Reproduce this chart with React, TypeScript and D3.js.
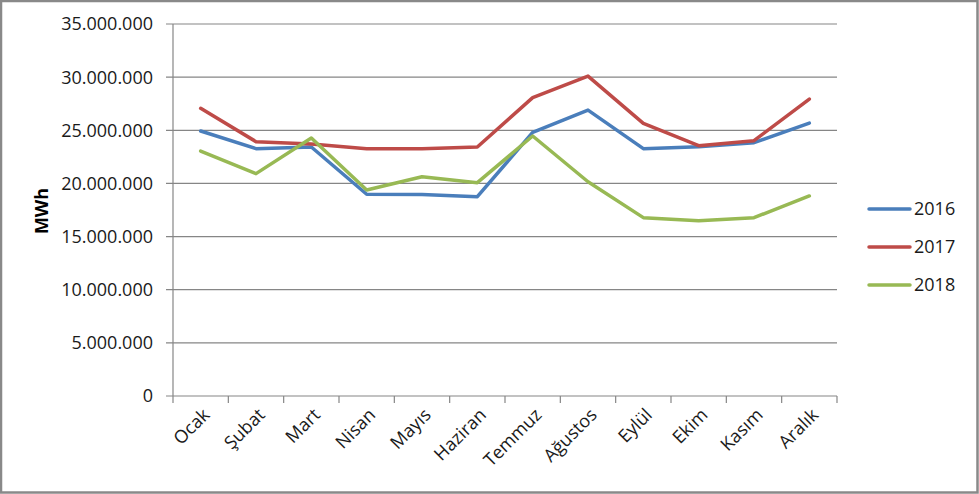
import * as d3 from "d3"

const months = ["Ocak", "Şubat", "Mart", "Nisan", "Mayıs", "Haziran", "Temmuz", "Ağustos", "Eylül", "Ekim", "Kasım", "Aralık"]

const y2016 = [24930000, 23270000, 23430000, 18980000, 18960000, 18750000, 24800000, 26900000, 23270000, 23460000, 23830000, 25680000]
const y2017 = [27070000, 23930000, 23700000, 23270000, 23270000, 23430000, 28070000, 30100000, 25650000, 23550000, 24020000, 27940000]
const y2018 = [23050000, 20920000, 24270000, 19380000, 20630000, 20070000, 24460000, 20160000, 16780000, 16500000, 16780000, 18820000]

const yTicks = [0, 5000000, 10000000, 15000000, 20000000, 25000000, 30000000, 35000000]

const series = [
  { name: "2016", values: y2016, color: "#4A7EBB" },
  { name: "2017", values: y2017, color: "#BE4B48" },
  { name: "2018", values: y2018, color: "#98B954" },
]

const W = 979
const H = 494
const left = 173
const right = 837
const top = 24
const bottom = 396
const font = "'Open Sans', sans-serif"

const fmt = (v: number) => v === 0 ? "0" : d3.format(",")(v).replace(/,/g, ".")

export default function App() {
  const x = d3.scaleBand<string>().domain(months).range([left, right])
  const y = d3.scaleLinear().domain([0, 35000000]).range([bottom, top])
  const cx = (m: string) => x(m)! + x.bandwidth() / 2

  const line = d3.line<number>()
    .x((_, i) => cx(months[i]))
    .y(d => y(d))

  const boundaries = months.map(m => x(m)!).concat([right])

  return (
    <svg width={W} height={H} style={{ position: "absolute", left: 0, top: 0, background: "#fff" }}>
      <rect x={1} y={1} width={W - 2.5} height={H - 2.5} fill="#fff" stroke="#898989" strokeWidth={2.5} />

      {yTicks.map(t => (
        <g key={t}>
          <line x1={left - 7} x2={right} y1={y(t)} y2={y(t)} stroke="#868686" strokeWidth={1.2} />
          <text x={153} y={y(t)} dy="0.36em" textAnchor="end" fontFamily={font} fontSize={18} fill="#1a1a1a">{fmt(t)}</text>
        </g>
      ))}

      <line x1={left} x2={left} y1={top} y2={bottom} stroke="#868686" strokeWidth={1.2} />
      {boundaries.map((b, i) => (
        <line key={i} x1={b} x2={b} y1={bottom} y2={bottom + 7} stroke="#868686" strokeWidth={1.2} />
      ))}

      {months.map(m => (
        <text key={m} transform={`translate(${cx(m) + 10},${bottom + 20}) rotate(-45)`} textAnchor="end"
          fontFamily={font} fontSize={18} fill="#1a1a1a">{m}</text>
      ))}

      <text transform="translate(48,211) rotate(-90)" textAnchor="middle" fontFamily={font} fontSize={18} fontWeight="bold" fill="#000">MWh</text>

      {series.map(s => (
        <path key={s.name} d={line(s.values)!} fill="none" stroke={s.color} strokeWidth={3.5} strokeLinejoin="round" strokeLinecap="round" />
      ))}

      {series.map((s, i) => (
        <g key={s.name} transform={`translate(869,${209 + i * 38})`}>
          <line x1={0} x2={41} y1={0} y2={0} stroke={s.color} strokeWidth={3.5} strokeLinecap="round" />
          <text x={45} y={0} dy="0.36em" fontFamily={font} fontSize={18} fill="#1a1a1a">{s.name}</text>
        </g>
      ))}
    </svg>
  )
}
